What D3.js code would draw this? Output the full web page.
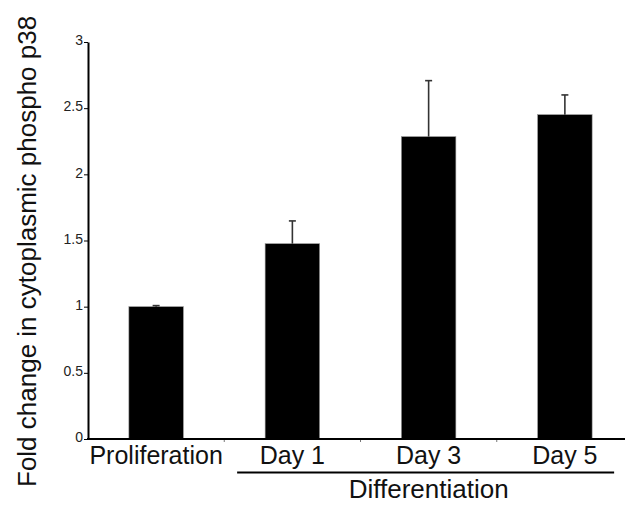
<!DOCTYPE html>
<html><head><meta charset="utf-8">
<script src="https://cdn.jsdelivr.net/npm/d3@7"></script>
<style>body{margin:0;background:#fff;} svg{display:block;font-family:"Liberation Sans",Arial,sans-serif;}</style>
</head><body>
<svg id="c" width="625" height="505"></svg>
<script>
const categories = ["Proliferation", "Day 1", "Day 3", "Day 5"];
const values = [1.0, 1.476, 2.285, 2.451];
const errors = [0.008, 0.172, 0.423, 0.149];
const yTicks = [0, 0.5, 1, 1.5, 2, 2.5, 3];
const yTickLabels = ["0", "0.5", "1", "1.5", "2", "2.5", "3"];
const groupLabel = "Differentiation";
const groupMembers = ["Day 1", "Day 3", "Day 5"];
const yTitle = "Fold change in cytoplasmic phospho p38";

const svg = d3.select("#c");
const x0 = 88, x1 = 633, yBase = 439, yTop = 42;
const x = d3.scaleBand().domain(categories).range([x0, x1]).paddingInner(0.6).paddingOuter(0.3);
const y = d3.scaleLinear().domain([0, 3]).range([yBase, yTop]);

// bars
svg.append("g").selectAll("rect").data(values).join("rect")
  .attr("x", (d, i) => x(categories[i]))
  .attr("y", d => y(d))
  .attr("width", x.bandwidth())
  .attr("height", d => y(0) - y(d))
  .attr("fill", "#000")
  .attr("stroke", "#999").attr("stroke-width", 0.6);

// error bars (upper only)
const eg = svg.append("g").attr("stroke", "#333").attr("stroke-width", 1.6);
values.forEach((v, i) => {
  const cx = x(categories[i]) + x.bandwidth() / 2;
  eg.append("line").attr("x1", cx).attr("x2", cx).attr("y1", y(v)).attr("y2", y(v + errors[i]));
  eg.append("line").attr("x1", cx - 3.5).attr("x2", cx + 3.5).attr("y1", y(v + errors[i])).attr("y2", y(v + errors[i]));
});

// y axis
const yAxis = d3.axisLeft(y).tickValues(yTicks).tickFormat((d, i) => yTickLabels[i]).tickSize(4).tickSizeOuter(0);
const ga = svg.append("g").attr("transform", `translate(${x0},0)`).call(yAxis);
ga.select(".domain").attr("stroke", "#000").attr("stroke-width", 2);
ga.selectAll(".tick line").attr("stroke", "#000").attr("stroke-width", 1);
ga.selectAll(".tick text").attr("font-size", 14).attr("fill", "#222").attr("x", -5).attr("dy", "0.2em")
  .style("font-family", '"Liberation Sans",Arial,sans-serif');

// x axis line
svg.append("line").attr("x1", x0 - 1).attr("x2", 625).attr("y1", yBase).attr("y2", yBase)
  .attr("stroke", "#000").attr("stroke-width", 2);
// minor ticks between categories
const step = x.step();
svg.append("g").selectAll("line").data(categories.slice(1)).join("line")
  .attr("x1", d => x(d) - step * x.paddingInner() / 2 * 0 - (x(d) - (x(categories[categories.indexOf(d) - 1]) + x.bandwidth())) / 2)
  .attr("x2", d => x(d) - (x(d) - (x(categories[categories.indexOf(d) - 1]) + x.bandwidth())) / 2)
  .attr("y1", yBase + 1).attr("y2", yBase + 3)
  .attr("stroke", "#777").attr("stroke-width", 1);

// category labels
svg.append("g").selectAll("text").data(categories).join("text")
  .attr("x", d => x(d) + x.bandwidth() / 2)
  .attr("y", 464)
  .attr("text-anchor", "middle").attr("font-size", 25).attr("fill", "#111")
  .text(d => d);

// group underline and label
const gx1 = x(groupMembers[0]) - 28, gx2 = x(groupMembers[groupMembers.length - 1]) + x.bandwidth() + 22;
svg.append("line").attr("x1", gx1).attr("x2", gx2).attr("y1", 472.5).attr("y2", 472.5)
  .attr("stroke", "#000").attr("stroke-width", 2);
svg.append("text").attr("x", x(groupMembers[1]) + x.bandwidth() / 2).attr("y", 498)
  .attr("text-anchor", "middle").attr("font-size", 26).attr("fill", "#111").text(groupLabel);

// y title
svg.append("text").attr("transform", "translate(36,487) rotate(-90)")
  .attr("text-anchor", "start").attr("font-size", 26).attr("fill", "#111").text(yTitle);
</script>
</body></html>
